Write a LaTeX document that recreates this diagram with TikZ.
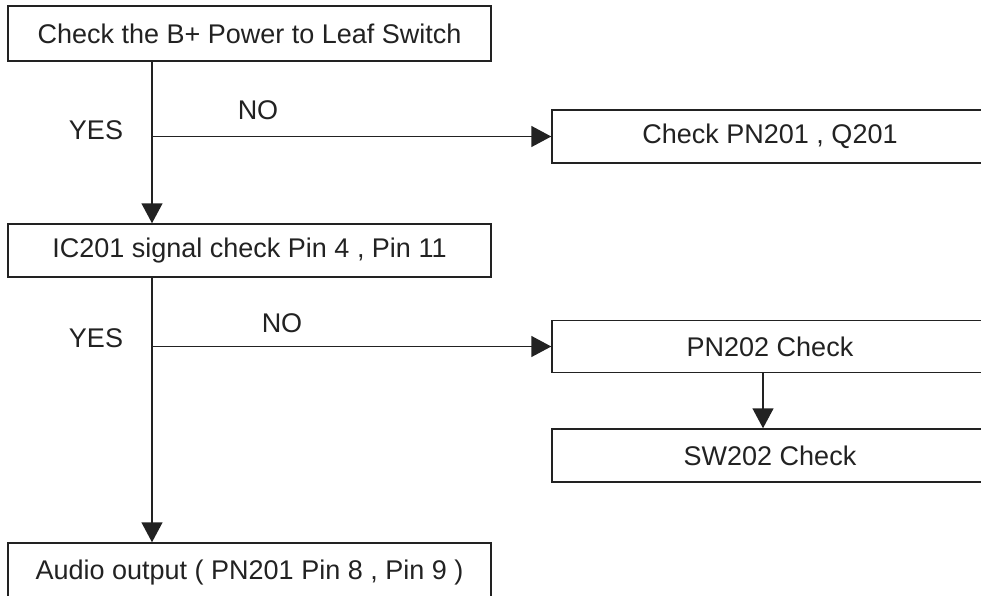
\documentclass[tikz,border=0pt]{standalone}
\usepackage{fontspec}
\setmainfont{Liberation Sans}
\usetikzlibrary{arrows.meta}
\definecolor{ink}{HTML}{222222}
\tikzset{
  box/.style={draw=ink, line width=1.5pt, rectangle, inner sep=0pt, text=ink,
    font=\fontsize{27}{31}\selectfont},
  lbl/.style={inner sep=0pt, text=ink, font=\fontsize{27}{31}\selectfont},
  arr/.style={draw=ink, line width=1.5pt, -{Triangle[length=20pt,width=21pt]}},
  ln/.style={draw=ink, line width=1.5pt}
}
\begin{document}
\begin{tikzpicture}[x=1pt,y=-1pt]
\useasboundingbox (0,0) rectangle (981,596);
\clip (0,0) rectangle (981,596);
\fill[white] (0,0) rectangle (981,596);
\node[box, minimum width=483pt, minimum height=55pt] (b1) at (249.5,33.5) {Check the B+ Power to Leaf Switch};
\node[box, minimum width=436pt, minimum height=53pt] (chk) at (770,136.5) {Check PN201 , Q201};
\node[box, minimum width=483pt, minimum height=53pt] (ic) at (249.5,250.5) {IC201 signal check Pin 4 , Pin 11};
\node[box, minimum width=436pt, minimum height=52pt] (pn) at (770,346.5) {PN202 Check};
\node[box, minimum width=436pt, minimum height=53pt] (sw) at (770,455.5) {SW202 Check};
\node[box, minimum width=483pt, minimum height=60pt] (au) at (249.5,573) {Audio output ( PN201 Pin 8 , Pin 9 )};
\coordinate (xl) at (152,0);
\coordinate (xr) at (763,0);
\coordinate (j1) at (152,136.5);
\coordinate (j2) at (152,346.5);
\draw[arr] (b1.south -| xl) -- (ic.north -| xl);
\draw[arr] (j1) -- (chk.west);
\draw[arr] (ic.south -| xl) -- (au.north -| xl);
\draw[arr] (j2) -- (pn.west);
\draw[arr] (pn.south -| xr) -- (sw.north -| xr);
\node[lbl] (yes1) at (96,130) {YES};
\node[lbl] (no1) at (258,110) {NO};
\node[lbl] (yes2) at (96,338) {YES};
\node[lbl] (no2) at (282,323) {NO};
\end{tikzpicture}
\end{document}
